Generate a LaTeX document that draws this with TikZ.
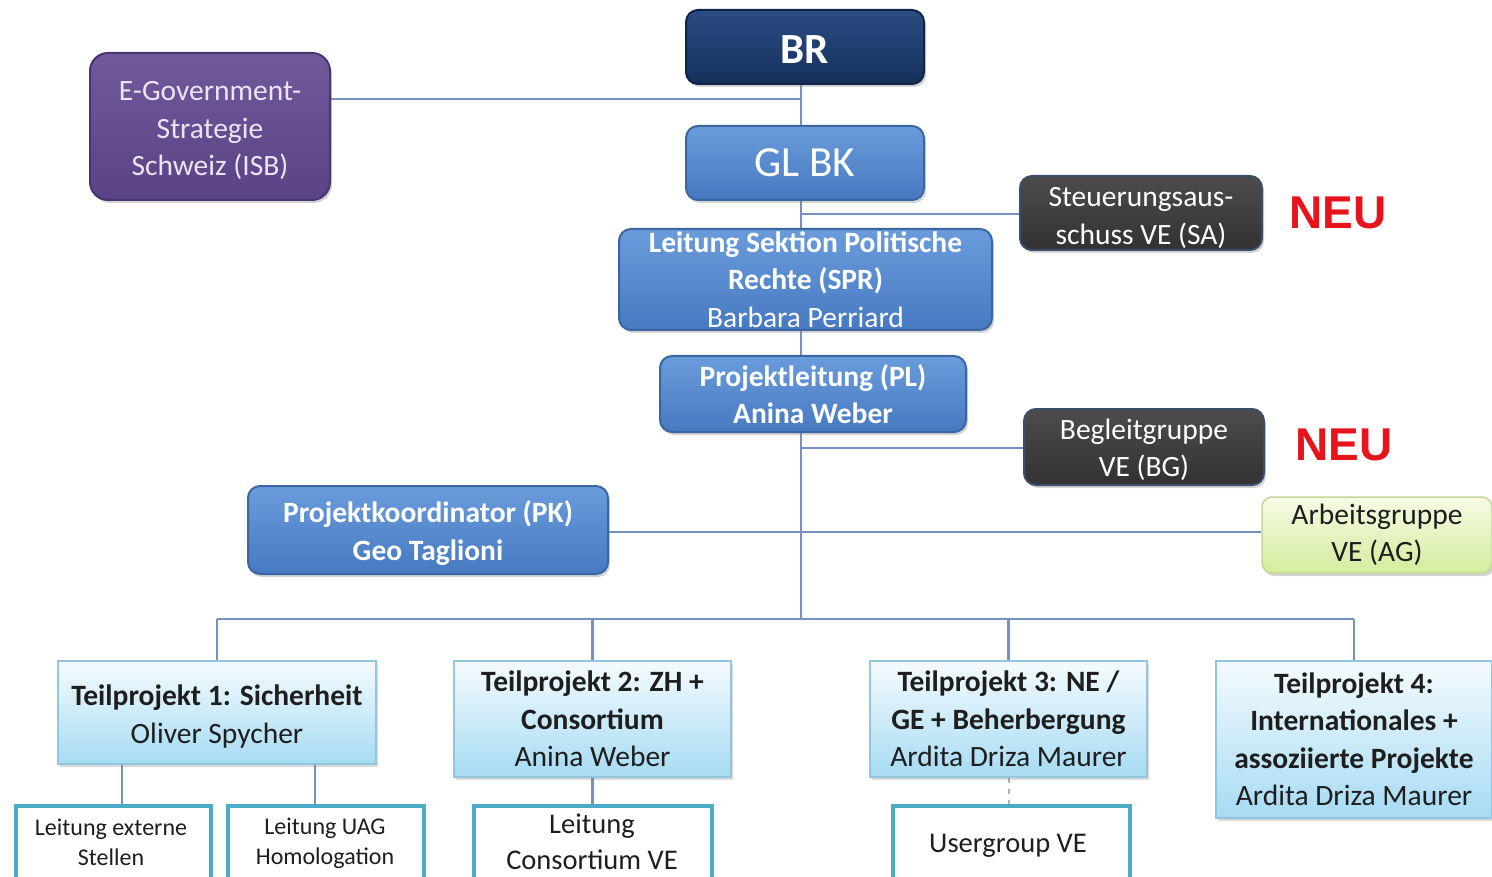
\documentclass[tikz,border=0pt]{standalone}
\usepackage{fontspec}
\setmainfont{Carlito}
\newfontfamily\neufont{Liberation Sans}
\usetikzlibrary{shadows}
\pgfdeclarelayer{background}
\pgfsetlayers{background,main}
\definecolor{connc}{HTML}{7392BE}
\definecolor{navyT}{HTML}{2B4C82}
\definecolor{navyB}{HTML}{15305C}
\definecolor{navyD}{HTML}{0F2548}
\definecolor{blueT}{HTML}{6A9CDC}
\definecolor{blueB}{HTML}{4679C0}
\definecolor{blueD}{HTML}{3A66A2}
\definecolor{purT}{HTML}{705A9C}
\definecolor{purB}{HTML}{594384}
\definecolor{purD}{HTML}{48376E}
\definecolor{lav}{HTML}{ECE4F6}
\definecolor{grayT}{HTML}{4C4C4C}
\definecolor{grayB}{HTML}{323232}
\definecolor{grayD}{HTML}{3A4E6E}
\definecolor{greenT}{HTML}{F6FBE6}
\definecolor{greenB}{HTML}{D4EC9C}
\definecolor{greenD}{HTML}{C2D99A}
\definecolor{cyanT}{HTML}{F5FBFE}
\definecolor{cyanB}{HTML}{A6DBF3}
\definecolor{cyanD}{HTML}{92C5E0}
\definecolor{teal}{HTML}{4BACC6}
\definecolor{neured}{HTML}{E8141C}
\definecolor{darktext}{HTML}{1E1E1E}
\begin{document}
\begin{tikzpicture}[x=1pt,y=-1pt,
  conn/.style={draw=connc,line width=2.5pt},
  fnt/.style={font=\fontsize{29.5}{37.5}\selectfont},
  box/.style={rounded corners=12pt,align=center,inner sep=0pt,line width=2pt,fnt,
    drop shadow={shadow xshift=2pt,shadow yshift=-3pt,opacity=0.35}},
  navybox/.style={box,top color=navyT,bottom color=navyB,draw=navyD,text=white},
  bluebox/.style={box,top color=blueT,bottom color=blueB,draw=blueD,text=white},
  purbox/.style={box,top color=purT,bottom color=purB,draw=purD,text=lav},
  graybox/.style={box,top color=grayT,bottom color=grayB,draw=grayD,text=white},
  greenbox/.style={box,rounded corners=10pt,top color=greenT,bottom color=greenB,draw=greenD,text=darktext,line width=1.5pt},
  tpbox/.style={align=center,inner sep=0pt,fnt,top color=cyanT,bottom color=cyanB,draw=cyanD,line width=1.5pt,text=darktext,
    drop shadow={shadow xshift=2pt,shadow yshift=-3pt,opacity=0.3}},
  childbox/.style={draw=teal,line width=4pt,fill=white,inner sep=0pt,
    drop shadow={shadow xshift=2pt,shadow yshift=-2pt,opacity=0.25}},
  childtext/.style={align=center,inner sep=0pt,text=darktext},
  neu/.style={font=\neufont\bfseries\fontsize{46}{50}\selectfont,text=neured,inner sep=0pt}
]
\useasboundingbox (0,0) rectangle (1492,877);
\clip (0,0) rectangle (1492,877);

% spine coordinates
\coordinate (sp0) at (801,84);
\coordinate (sp1) at (801,99);
\coordinate (sp2) at (801,214);
\coordinate (sp3) at (801,448);
\coordinate (sp4) at (801,532);
\coordinate (sp5) at (801,619);

% boxes
\node[navybox,minimum width=238pt,minimum height=74pt,font=\bfseries\fontsize{43}{46}\selectfont] (BR) at (805,47) {\rule{0pt}{34pt}BR};
\node[bluebox,minimum width=238pt,minimum height=74pt,font=\fontsize{43}{46}\selectfont] (GLBK) at (805,163) {GL BK};
\node[bluebox,minimum width=373pt,minimum height=101pt] (SPR) at (805.5,279.5)
  {\textbf{Leitung Sektion Politische}\\\textbf{Rechte (SPR)}\\Barbara Perriard};
\node[bluebox,minimum width=306pt,minimum height=76pt] (PL) at (813,394)
  {\textbf{Projektleitung (PL)}\\\textbf{Anina Weber}};
\node[purbox,minimum width=240pt,minimum height=147pt,rounded corners=18pt] (EGov) at (210,126.5)
  {\rule{0pt}{28pt}E-Government-\\Strategie\\Schweiz (ISB)};
\node[graybox,minimum width=242pt,minimum height=74pt] (SA) at (1141,213)
  {\rule{0pt}{29.5pt}Steuerungsaus-\\schuss VE (SA)};
\node[graybox,minimum width=240pt,minimum height=76pt] (BG) at (1144,447)
  {\rule{0pt}{26pt}Begleitgruppe\\VE (BG)};
\node[greenbox,minimum width=230pt,minimum height=76pt] (AG) at (1377,535)
  {Arbeitsgruppe\\VE (AG)};
\node[bluebox,minimum width=360pt,minimum height=88pt] (PK) at (428,530)
  {\rule{0pt}{28pt}\textbf{Projektkoordinator (PK)}\\\textbf{Geo Taglioni}};
\node[neu] (NEU1) at (1338,213) {NEU};
\node[neu] (NEU2) at (1344,445) {NEU};

\node[tpbox,minimum width=318pt,minimum height=103pt] (TP1) at (217,712.5)
  {\rule{0pt}{29pt}\textbf{Teilprojekt 1: Sicherheit}\\Oliver Spycher};
\node[tpbox,minimum width=277pt,minimum height=116pt] (TP2) at (592.5,719)
  {\textbf{Teilprojekt 2: ZH +}\\\textbf{Consortium}\\Anina Weber};
\node[tpbox,minimum width=277pt,minimum height=116pt] (TP3) at (1008.5,719)
  {\textbf{Teilprojekt 3: NE /}\\\textbf{GE + Beherbergung}\\Ardita Driza Maurer};
\node[tpbox,minimum width=276pt,minimum height=157pt] (TP4) at (1354,739.5)
  {\textbf{Teilprojekt 4:}\\\textbf{Internationales +}\\\textbf{assoziierte Projekte}\\Ardita Driza Maurer};

\node[childbox,minimum width=195pt,minimum height=94pt] (C1) at (113.5,853) {};
\node[childtext,font=\fontsize{24}{30}\selectfont] (C1t) at (111,842) {Leitung externe\\Stellen};
\node[childbox,minimum width=196pt,minimum height=94pt] (C2) at (326,853) {};
\node[childtext,font=\fontsize{24}{30}\selectfont] (C2t) at (325,843) {Leitung UAG\\Homologation};
\node[childbox,minimum width=238pt,minimum height=94pt] (C3) at (593,853) {};
\node[childtext,font=\fontsize{28.5}{36}\selectfont] (C3t) at (592,842) {Leitung\\Consortium VE};
\node[childbox,minimum width=237pt,minimum height=94pt] (UG) at (1011.5,853) {};
\node[childtext,font=\fontsize{28.5}{36}\selectfont] (UGt) at (1008,846) {Usergroup VE};

% connectors
\begin{pgfonlayer}{background}
  \draw[conn] (sp0) -- (sp5);
  \draw[conn] (EGov.east |- sp1) -- (sp1);
  \draw[conn] (sp2) -- (SA.west |- sp2);
  \draw[conn] (sp3) -- (BG.west |- sp3);
  \draw[conn] (PK.east |- sp4) -- (AG.west |- sp4);
  \draw[conn] (TP1.north |- sp5) -- (TP4.north |- sp5);
  \draw[conn] (TP1.north |- sp5) -- (TP1.north);
  \draw[conn] (TP2.north |- sp5) -- (TP2.north);
  \draw[conn] (TP3.north |- sp5) -- (TP3.north);
  \draw[conn] (TP4.north |- sp5) -- (TP4.north);
  \draw[conn] ([xshift=8.5pt]C1.north) -- ([xshift=8.5pt]C1.north |- TP1.south);
  \draw[conn] ([xshift=-11pt]C2.north) -- ([xshift=-11pt]C2.north |- TP1.south);
  \draw[conn] (TP2.south) -- (TP2.south |- C3.north);
  \draw[draw=gray!60,line width=2pt,dash pattern=on 5pt off 6pt] (TP3.south) -- (TP3.south |- UG.north);
\end{pgfonlayer}
\end{tikzpicture}
\end{document}
